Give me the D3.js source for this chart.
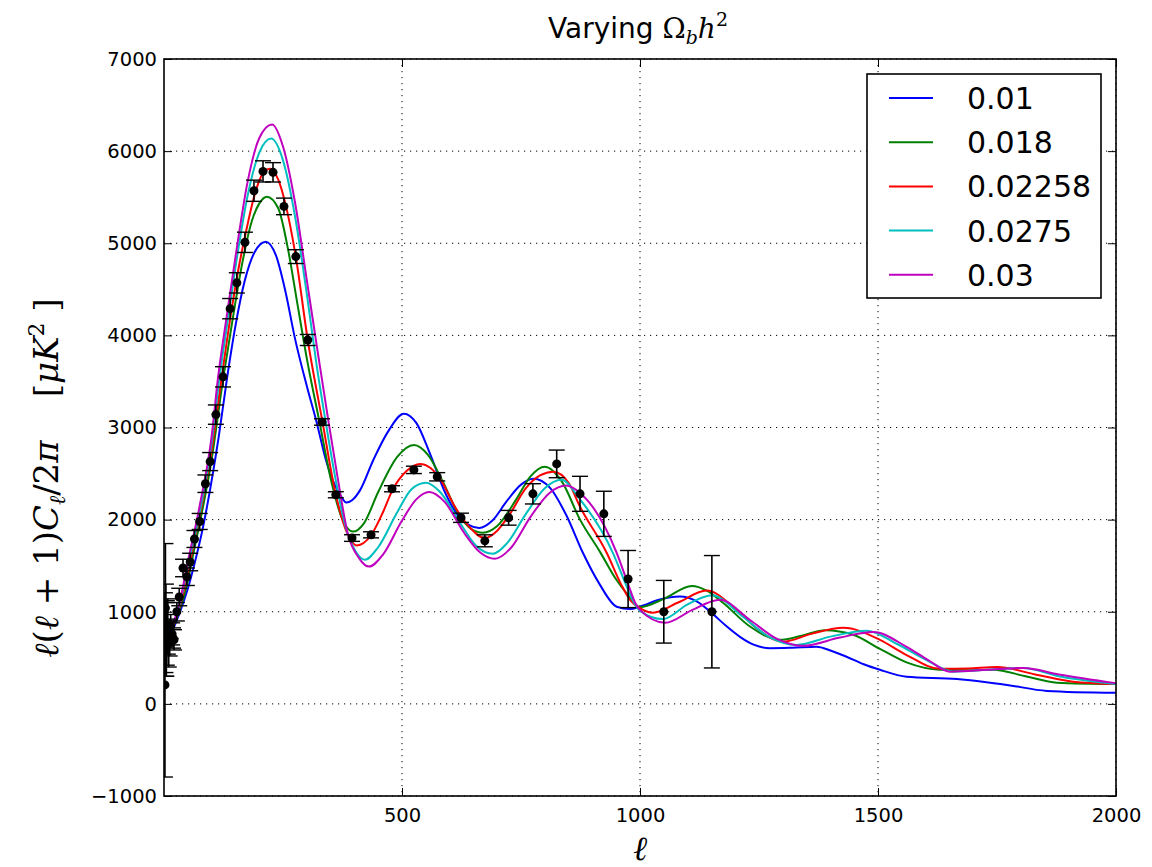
<!DOCTYPE html>
<html>
<head>
<meta charset="utf-8">
<script src="https://cdnjs.cloudflare.com/ajax/libs/d3/7.8.5/d3.min.js"></script>
<style>
	body{margin:0;background:#fff;}
	text{font-family:"DejaVu Sans",sans-serif;}
	.math{font-family:"DejaVu Serif",serif;}
</style>
</head>
<body>
<div id="chart"></div>
<script>
var W = 1152, H = 867;
var margin = {top: 59, right: 36, bottom: 71, left: 164};
var w = W-margin.left-margin.right;
var h = H-margin.top-margin.bottom;

// legend labels (Omega_b h^2) and colours
var seriesNames = ["0.01","0.018","0.02258","0.0275","0.03"];
var seriesColors = ["#0000ff","#008000","#ff0000","#00bfbf","#bf00bf"];

var xTicks = [500,1000,1500,2000];
var yTicks = [-1000,0,1000,2000,3000,4000,5000,6000,7000];

// model spectra, [ell, l(l+1)Cl/2pi]
var omb001 = [[2,880],[10,800],[20,830],[30,950],[50,1250],[65,1540],[80,1870],[100,2420],[115,2900],[132,3520],[150,4100],[170,4600],[190,4900],[214,5017],[235,4870],[255,4480],[275,3970],[300,3450],[321,3050],[340,2650],[355,2420],[370,2270],[383,2185],[395,2210],[412,2320],[440,2650],[470,2950],[504,3150],[530,3050],[560,2700],[590,2300],[620,2030],[662,1910],[690,1990],[720,2200],[750,2380],[776,2443],[811,2345],[845,2050],[880,1640],[915,1300],[951,1055],[979,1030],[1000,1055],[1040,1130],[1084,1165],[1120,1110],[1151,985],[1180,850],[1210,728],[1240,640],[1273,605],[1320,610],[1371,620],[1400,580],[1434,512],[1470,430],[1504,370],[1560,295],[1666,270],[1720,240],[1771,206],[1855,141],[2000,120]];
var omb018 = [[2,890],[10,810],[20,850],[30,980],[50,1330],[58,1540],[75,1960],[100,2650],[124,3520],[145,4200],[165,4800],[185,5250],[200,5430],[216,5506],[240,5380],[260,4950],[280,4350],[300,3750],[327,3050],[350,2450],[375,2000],[397,1870],[420,1960],[450,2300],[490,2680],[525,2810],[555,2700],[585,2420],[620,2050],[645,1900],[670,1857],[700,1930],[740,2220],[770,2470],[800,2574],[835,2420],[874,2000],[916,1650],[950,1350],[972,1200],[1000,1050],[1050,1140],[1109,1280],[1140,1230],[1175,1095],[1231,840],[1294,695],[1340,740],[1389,800],[1448,750],[1504,597],[1560,450],[1630,370],[1690,365],[1742,370],[1810,300],[1876,230],[2000,215]];
var omb02258 = [[2,890],[10,820],[20,860],[30,1000],[45,1300],[55,1540],[64,1780],[75,2040],[87,2370],[100,2750],[120,3500],[139,4180],[155,4680],[172,5120],[189,5500],[208,5760],[223,5810],[240,5690],[255,5430],[277,4850],[302,3950],[333,3060],[361,2270],[385,1850],[405,1720],[435,1830],[460,2080],[480,2320],[510,2530],[538,2605],[560,2560],[585,2400],[610,2150],[640,1930],[674,1800],[700,1880],[724,2040],[760,2340],[790,2480],[818,2520],[850,2400],[874,2140],[930,1640],[960,1300],[979,1130],[1000,1040],[1027,990],[1080,1100],[1140,1230],[1203,1020],[1250,800],[1300,675],[1360,760],[1427,825],[1504,695],[1560,530],[1630,380],[1690,385],[1750,400],[1830,320],[1910,240],[2000,215]];
var omb0275 = [[2,900],[10,830],[20,880],[30,1020],[52,1540],[75,2080],[100,2830],[116,3520],[135,4200],[155,4900],[175,5500],[200,5980],[225,6136],[250,5900],[275,5300],[300,4450],[320,3700],[340,3050],[360,2450],[380,1950],[400,1680],[422,1565],[450,1700],[490,2080],[520,2330],[550,2400],[580,2300],[620,1980],[655,1720],[691,1630],[720,1740],[760,2060],[800,2340],[835,2432],[874,2220],[943,1640],[970,1300],[986,1110],[1000,1010],[1048,920],[1100,1080],[1151,1180],[1216,945],[1270,730],[1329,640],[1400,730],[1476,795],[1540,650],[1600,480],[1658,350],[1730,370],[1805,390],[1880,300],[2000,215]];
var omb03 = [[2,910],[10,840],[20,890],[30,1040],[50,1540],[75,2150],[100,2900],[113,3520],[133,4250],[153,4950],[175,5650],[200,6140],[227,6290],[250,6050],[275,5450],[300,4600],[325,3750],[346,3050],[365,2450],[386,1850],[410,1580],[431,1490],[460,1620],[500,1990],[530,2220],[557,2300],[590,2190],[630,1860],[665,1640],[695,1575],[730,1700],[770,2030],[810,2290],[845,2370],[874,2290],[951,1640],[975,1300],[990,1095],[1000,1020],[1053,880],[1110,1020],[1168,1130],[1231,910],[1290,700],[1342,630],[1420,720],[1490,780],[1560,620],[1610,460],[1651,350],[1730,370],[1805,390],[1880,320],[2000,225]];
var models = [omb001, omb018, omb02258, omb0275, omb03];

// measured band powers with error bars
var dataEll = [2,3,4,5,6,8,10,12,14,17,19,21,27,32,40,48,55,64,75,87,97,109,124,139,153,170,189,208,229,252,277,302,332,361,395,435,479,525,574,624,674,724,775,825,874,924,975,1050,1151];
var dataCl  = [206,1040,800,700,770,840,650,720,840,760,715,695,1000,1160,1475,1380,1540,1790,1980,2390,2630,3140,3550,4290,4570,5010,5570,5780,5770,5400,4855,3950,3060,2270,1800,1835,2335,2540,2465,2020,1770,2020,2280,2605,2280,2063,1355,1000,1000];
var dataErr = [1000,700,500,400,350,300,250,200,130,120,110,110,100,95,95,95,95,92,87,95,98,105,110,110,110,110,115,115,105,90,75,60,35,33,36,33,33,40,45,50,65,80,110,150,190,245,310,340,610];

var x = d3.scaleLinear().domain([0,2000]).range([0,w]);
var y = d3.scaleLinear().domain([-1000,7000]).range([h,0]);

var svg = d3.select("#chart")
	.append("svg")
	.attr("width", W)
	.attr("height", H)
	.style("background", "#fff");

var g = svg.append("g")
	.attr("transform", "translate("+margin.left+","+margin.top+")");

g.append("clipPath").attr("id","clip")
	.append("rect").attr("width", w).attr("height", h);

// dotted grid
g.selectAll(".vgrid")
	.data(xTicks)
	.enter().append("line")
	.attr("x1", function(d){return x(d)})
	.attr("x2", function(d){return x(d)})
	.attr("y1", 0).attr("y2", h)
	.attr("stroke", "#000").attr("stroke-width", 1)
	.attr("stroke-dasharray", "1.2,4.8");

g.selectAll(".hgrid")
	.data(yTicks)
	.enter().append("line")
	.attr("x1", 0).attr("x2", w)
	.attr("y1", function(d){return y(d)})
	.attr("y2", function(d){return y(d)})
	.attr("stroke", "#000").attr("stroke-width", 1)
	.attr("stroke-dasharray", "1.2,4.8");

// model curves
var line = d3.line()
	.x(function(d){return x(d[0])})
	.y(function(d){return y(d[1])})
	.curve(d3.curveMonotoneX);

g.append("g").attr("clip-path","url(#clip)")
	.selectAll("path")
	.data(models)
	.enter().append("path")
	.attr("d", line)
	.attr("fill", "none")
	.attr("stroke", function(d,i){return seriesColors[i]})
	.attr("stroke-width", 2);

// data points
var pts = g.append("g").attr("clip-path","url(#clip)");
dataEll.forEach(function(l,i){
	var cx = x(l), lo = y(dataCl[i]-dataErr[i]), hi = y(dataCl[i]+dataErr[i]);
	pts.append("line").attr("x1",cx).attr("x2",cx).attr("y1",lo).attr("y2",hi)
		.attr("stroke","#000").attr("stroke-width",1.6);
	pts.append("line").attr("x1",cx-8).attr("x2",cx+8).attr("y1",lo).attr("y2",lo)
		.attr("stroke","#000").attr("stroke-width",1.4);
	pts.append("line").attr("x1",cx-8).attr("x2",cx+8).attr("y1",hi).attr("y2",hi)
		.attr("stroke","#000").attr("stroke-width",1.4);
	pts.append("circle").attr("cx",cx).attr("cy",y(dataCl[i])).attr("r",4.5).attr("fill","#000");
});

// axes, ticks pointing inward
var fmt = d3.format("d");
var fontTicks = function(sel){
	sel.select(".domain").remove();
	sel.selectAll(".tick line").attr("stroke","#000").attr("stroke-width",1);
	sel.selectAll(".tick text").style("font-family","DejaVu Sans").style("font-size","19.5px").attr("fill","#000");
};
g.append("g").attr("transform","translate(0,"+h+")")
	.call(d3.axisBottom(x).tickValues(xTicks).tickSize(-8).tickPadding(12).tickFormat(fmt))
	.call(fontTicks);
g.append("g")
	.call(d3.axisTop(x).tickValues(xTicks).tickSize(-8).tickFormat(""))
	.call(fontTicks);
g.append("g")
	.call(d3.axisLeft(y).tickValues(yTicks).tickSize(-8).tickPadding(7).tickFormat(fmt))
	.call(fontTicks);
g.append("g").attr("transform","translate("+w+",0)")
	.call(d3.axisRight(y).tickValues(yTicks).tickSize(-8).tickFormat(""))
	.call(fontTicks);

g.append("rect")
	.attr("width", w).attr("height", h)
	.attr("fill","none").attr("stroke","#000").attr("stroke-width",1.6);

// legend
var lg = svg.append("g").attr("transform","translate(867,74)");
lg.append("rect").attr("width",234).attr("height",224)
	.attr("fill","#fff").attr("stroke","#000").attr("stroke-width",1.6);
seriesNames.forEach(function(s,i){
	var yy = 24 + i*44.2;
	lg.append("line").attr("x1",22).attr("x2",66).attr("y1",yy).attr("y2",yy)
		.attr("stroke",seriesColors[i]).attr("stroke-width",2);
	lg.append("text").attr("x",100).attr("y",yy+11)
		.style("font-size","30px").text(s);
});

// title
var t = svg.append("text").attr("x",638).attr("y",38)
	.attr("text-anchor","middle").style("font-size","28px");
t.append("tspan").text("Varying ");
t.append("tspan").attr("class","math").text("Ω");
t.append("tspan").attr("class","math").style("font-style","italic").style("font-size","19px").attr("dy",6).text("b");
t.append("tspan").attr("class","math").style("font-style","italic").attr("dy",-6).text("h");
t.append("tspan").attr("class","math").style("font-size","19px").attr("dy",-12).text("2");

// x label
svg.append("text").attr("class","math")
	.attr("x",640).attr("y",860)
	.attr("text-anchor","middle")
	.style("font-size","34px").style("font-style","italic")
	.text("ℓ");

// y label
var yl = svg.append("text").attr("class","math")
	.attr("transform","translate(58,478) rotate(-90)")
	.attr("text-anchor","middle")
	.style("font-size","34px");
yl.append("tspan").style("font-style","italic").text("ℓ");
yl.append("tspan").text("(");
yl.append("tspan").style("font-style","italic").text("ℓ");
yl.append("tspan").text(" + 1)");
yl.append("tspan").style("font-style","italic").text("C");
yl.append("tspan").style("font-style","italic").style("font-size","22px").attr("dy",7).text("ℓ");
yl.append("tspan").attr("dy",-7).text("/2");
yl.append("tspan").style("font-style","italic").text("π");
yl.append("tspan").text("\u00a0\u00a0\u00a0\u00a0[");
yl.append("tspan").style("font-style","italic").text("μK");
yl.append("tspan").style("font-size","22px").attr("dy",-14).text("2");
yl.append("tspan").attr("dy",14).text("\u00a0]");
</script>
</body>
</html>
